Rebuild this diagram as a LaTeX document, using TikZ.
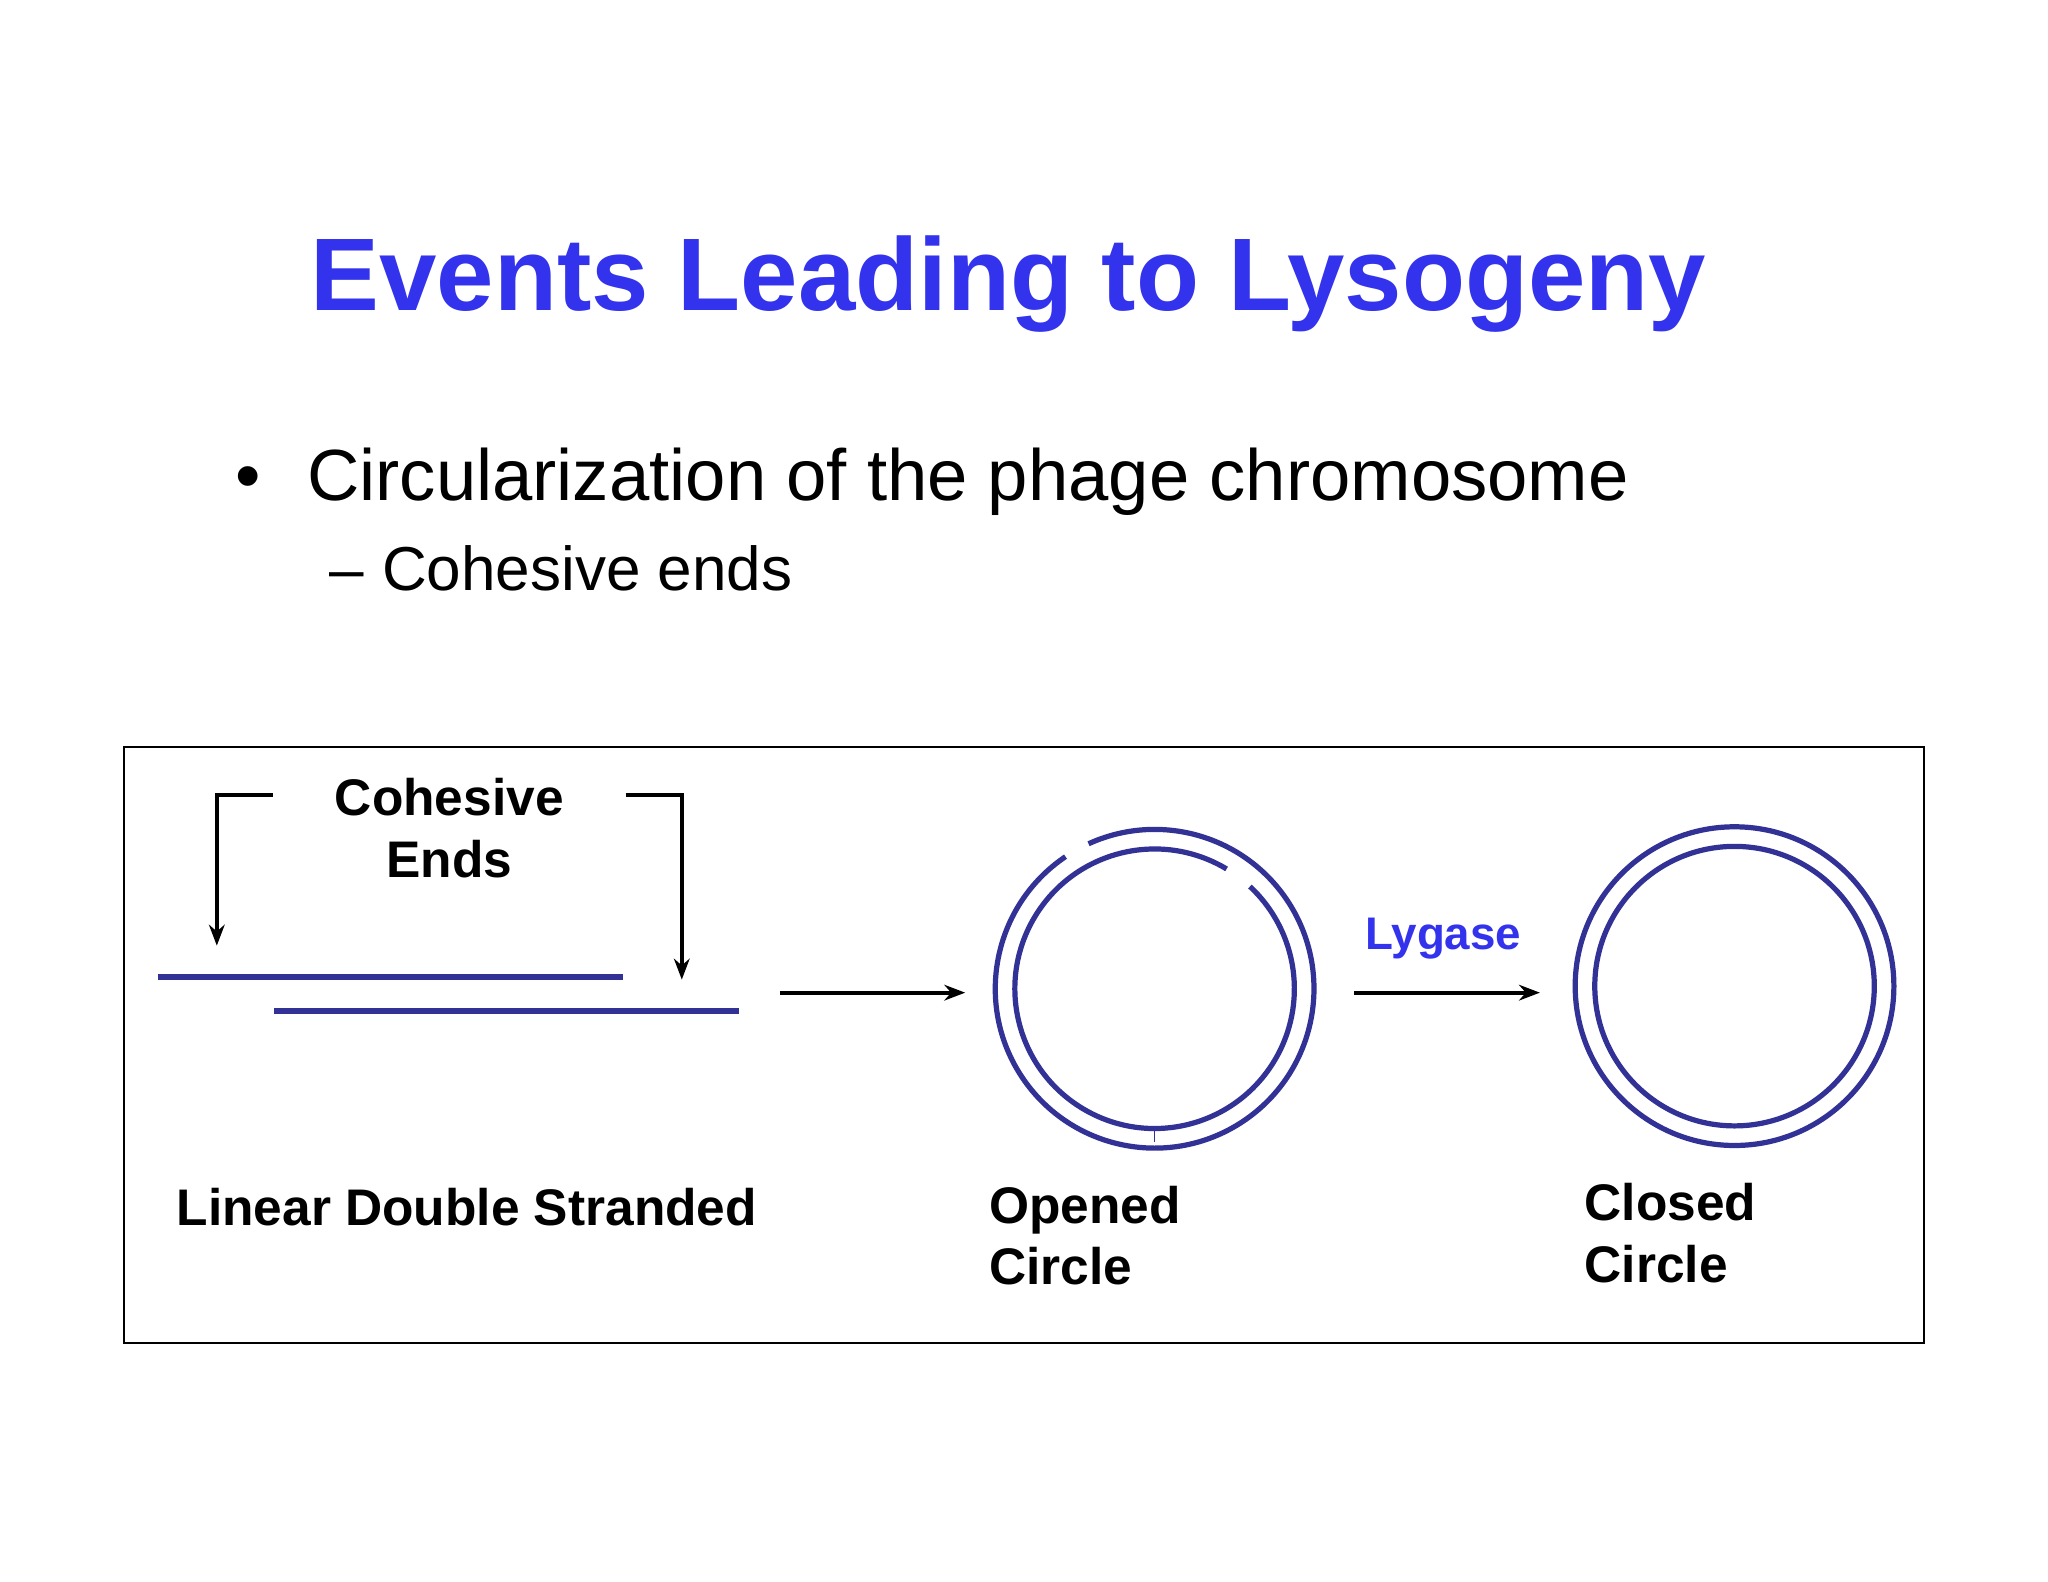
\documentclass[tikz,border=0pt]{standalone}
\usepackage{fontspec}
\setmainfont{Liberation Sans}
\usetikzlibrary{arrows.meta}
\definecolor{titleblue}{RGB}{51,51,238}
\definecolor{dna}{RGB}{50,50,150}
\begin{document}
\begin{tikzpicture}[x=1pt,y=-1pt,
  strand/.style={dna, line width=4pt},
  pointer/.style={black, line width=3pt, -{Stealth[length=16pt,width=12pt]}},
  lbl/.style={font=\fontsize{39.4}{47}\selectfont\bfseries, inner sep=0pt, align=left}]
\useasboundingbox[fill=white] (0,0) rectangle (1568,1211);
% title and bullets
\node[anchor=base, inner sep=0pt, text=titleblue, font=\fontsize{79}{88}\selectfont\bfseries] (title) at (772,238) {Events Leading to Lysogeny};
\node[anchor=base west, inner sep=0pt, font=\fontsize{55.5}{64}\selectfont] (dot) at (180,383) {\textbullet};
\node[anchor=base west, inner sep=0pt, font=\fontsize{55.5}{64}\selectfont] (b1) at (235,383) {Circularization of the phage chromosome};
\node[anchor=base west, inner sep=0pt, font=\fontsize{47.5}{54}\selectfont] (b2) at (252,452) {–\hspace{14pt}Cohesive ends};
% frame
\draw[line width=1.5pt] (95,572) rectangle (1473,1028);
% linear DNA
\coordinate (u1) at (121,748); \coordinate (u2) at (477,748);
\coordinate (l1) at (210,774); \coordinate (l2) at (566,774);
\draw[strand] (u1) -- (u2);
\draw[strand] (l1) -- (l2);
\node[lbl, align=center, anchor=center] (coh) at (344,634) {Cohesive\\Ends};
\coordinate (la) at (209,609); \coordinate (lt) at (166,724);
\coordinate (ra) at (479,609); \coordinate (rt) at (522,750);
\draw[pointer] (la) -| (lt);
\draw[pointer] (ra) -| (rt);
\node[lbl, anchor=base west] (lin) at (135,938) {Linear Double Stranded};
% arrows
\coordinate (a1) at (597,760); \coordinate (a2) at (739,760);
\coordinate (a3) at (1037,760); \coordinate (a4) at (1179,760);
\draw[pointer] (a1) -- (a2);
\draw[pointer] (a3) -- (a4);
\node[anchor=base, inner sep=0pt, text=titleblue, font=\fontsize{35}{40}\selectfont\bfseries] (lyg) at (1105,727) {Lygase};
% opened circle
\coordinate (oc) at (884,757);
\draw[strand] ([shift={(-124:122)}]oc) arc[start angle=-124, end angle=-474.5, radius=122];
\draw[strand] ([shift={(-59:107)}]oc) arc[start angle=-59, end angle=-407, radius=107];
\draw[dna, line width=1pt] (884,864) -- (884,874);
\node[lbl, anchor=north west] (oc1) at (757,908) {Opened\\Circle};
% closed circle
\coordinate (cc) at (1328,755);
\draw[strand] (cc) circle[radius=122];
\draw[strand] (cc) circle[radius=107];
\node[lbl, anchor=north west] (cc1) at (1213,906) {Closed\\Circle};
\end{tikzpicture}
\end{document}
